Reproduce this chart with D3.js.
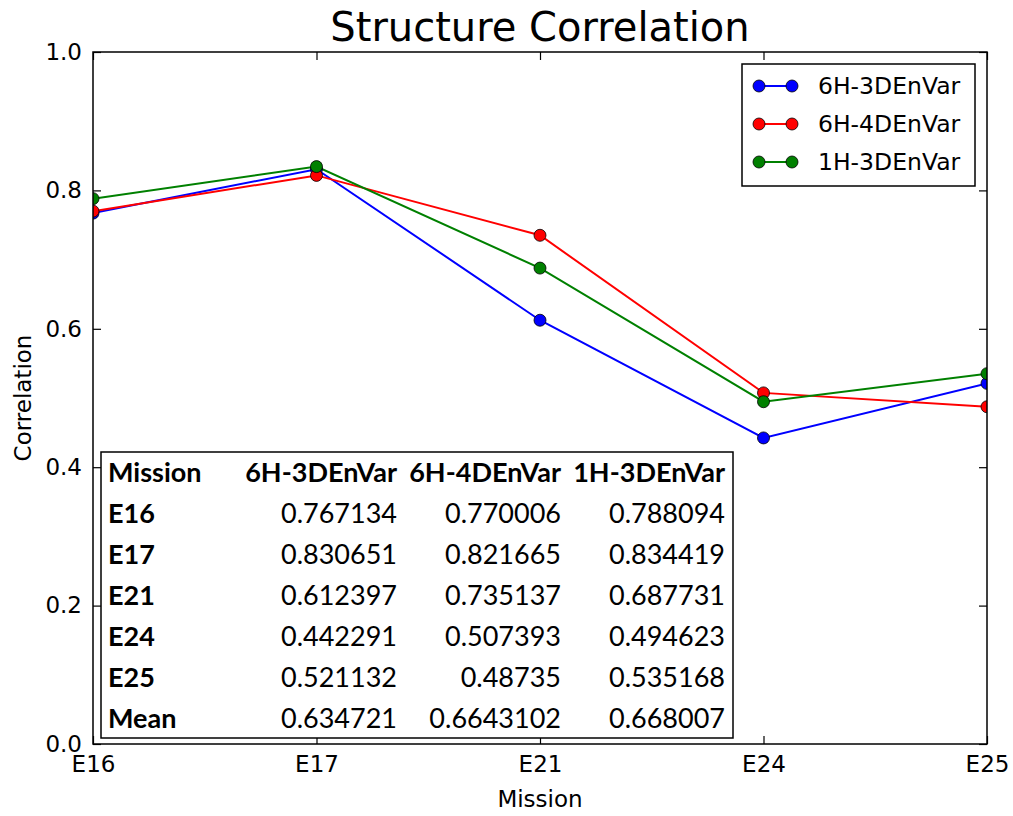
<!DOCTYPE html>
<html>
<head>
<meta charset="utf-8">
<style>
  body { margin: 0; background: #fff; }
  svg { display: block; }
  .tick text { font-family: "DejaVu Sans", sans-serif; font-size: 23px; fill: #000; }
  .tick line { stroke: #000; stroke-width: 1.2; }
  .domain { display: none; }
</style>
</head>
<body>
<svg width="1013" height="816"></svg>
<script src="https://cdn.jsdelivr.net/npm/d3@7/dist/d3.min.js"></script>
<script>

var missions = ["E16", "E17", "E21", "E24", "E25"];
var seriesNames = ["6H-3DEnVar", "6H-4DEnVar", "1H-3DEnVar"];
var h6_3d = [0.767134, 0.830651, 0.612397, 0.442291, 0.521132];
var h6_4d = [0.770006, 0.821665, 0.735137, 0.507393, 0.48735];
var h1_3d = [0.788094, 0.834419, 0.687731, 0.494623, 0.535168];
var means = [0.634721, 0.6643102, 0.668007];
var yTicks = [0, 0.2, 0.4, 0.6, 0.8, 1.0];
var colors = ["#0000ff", "#ff0000", "#008000"];

var series = [h6_3d, h6_4d, h1_3d];

var svg = d3.select("svg"),
    margin = {top: 52, right: 26, bottom: 72, left: 93},
    width = +svg.attr("width") - margin.left - margin.right,
    height = +svg.attr("height") - margin.top - margin.bottom,
    g = svg.append("g").attr("transform", "translate(" + margin.left + "," + margin.top + ")");

var x = d3.scalePoint().domain(missions).range([0, width]);
var y = d3.scaleLinear().domain([0, 1]).range([height, 0]);

// title
svg.append("text")
    .attr("x", margin.left + width / 2)
    .attr("y", 41)
    .attr("text-anchor", "middle")
    .style("font-family", "DejaVu Sans, sans-serif")
    .style("font-size", "40px")
    .text("Structure Correlation");

// axes (ticks pointing inwards, on all four sides)
g.append("g")
    .call(d3.axisLeft(y).tickValues(yTicks).tickFormat(d3.format(".1f"))
      .tickSizeInner(-8).tickSizeOuter(0).tickPadding(11));
g.append("g")
    .attr("transform", "translate(" + width + ",0)")
    .call(d3.axisRight(y).tickValues(yTicks).tickFormat("")
      .tickSizeInner(-8).tickSizeOuter(0));
g.append("g")
    .attr("transform", "translate(0," + height + ")")
    .call(d3.axisBottom(x).tickSizeInner(-8).tickSizeOuter(0).tickPadding(12));
g.append("g")
    .call(d3.axisTop(x).tickFormat("").tickSizeInner(-8).tickSizeOuter(0));

// axis labels
svg.append("text")
    .attr("x", margin.left + width / 2)
    .attr("y", 807)
    .attr("text-anchor", "middle")
    .style("font-family", "DejaVu Sans, sans-serif")
    .style("font-size", "23px")
    .text("Mission");
svg.append("text")
    .attr("transform", "translate(31," + (margin.top + height / 2) + ") rotate(-90)")
    .attr("text-anchor", "middle")
    .style("font-family", "DejaVu Sans, sans-serif")
    .style("font-size", "23px")
    .text("Correlation");

// lines and markers, clipped to the axes
svg.append("defs").append("clipPath").attr("id", "clip")
  .append("rect").attr("width", width).attr("height", height);

var plot = g.append("g").attr("clip-path", "url(#clip)");
var line = d3.line()
    .x(function(d, i) { return x(missions[i]); })
    .y(function(d) { return y(d); });

series.forEach(function(s, k) {
  plot.append("path")
      .datum(s)
      .attr("fill", "none")
      .attr("stroke", colors[k])
      .attr("stroke-width", 2)
      .attr("d", line);
});
series.forEach(function(s, k) {
  plot.selectAll(".pt" + k)
      .data(s)
    .enter().append("circle")
      .attr("cx", function(d, i) { return x(missions[i]); })
      .attr("cy", function(d) { return y(d); })
      .attr("r", 6)
      .attr("fill", colors[k])
      .attr("stroke", "#000")
      .attr("stroke-width", 0.8);
});

// table
var rows = missions.concat(["Mean"]);
var tbl = g.append("g").attr("transform", "translate(8,400)");
tbl.append("rect")
    .attr("width", 632).attr("height", 286)
    .attr("fill", "#fff").attr("stroke", "#000").attr("stroke-width", 1.5);

var colRight = [296, 460, 624];
var tblFont = "Lato, 'Open Sans', sans-serif";
tbl.append("text")
    .attr("x", 7).attr("y", 30)
    .style("font-family", tblFont).style("font-weight", "bold").style("font-size", "27px")
    .text("Mission");
seriesNames.forEach(function(n, c) {
  tbl.append("text")
      .attr("x", colRight[c]).attr("y", 30)
      .attr("text-anchor", "end")
      .style("font-family", tblFont).style("font-weight", "bold").style("font-size", "27px")
      .text(n);
});
rows.forEach(function(r, i) {
  var yy = 30 + 41 * (i + 1);
  tbl.append("text")
      .attr("x", 7).attr("y", yy)
      .style("font-family", tblFont).style("font-weight", "bold").style("font-size", "27px")
      .text(r);
  series.forEach(function(s, c) {
    var v = i < missions.length ? s[i] : means[c];
    tbl.append("text")
        .attr("x", colRight[c]).attr("y", yy)
        .attr("text-anchor", "end")
        .style("font-family", tblFont).style("font-size", "27px")
        .text(String(v));
  });
});

// spine
g.append("rect")
    .attr("width", width).attr("height", height)
    .attr("fill", "none").attr("stroke", "#000").attr("stroke-width", 1.5);

// legend
var lg = g.append("g").attr("transform", "translate(" + (742 - margin.left) + "," + (64 - margin.top) + ")");
lg.append("rect")
    .attr("width", 233).attr("height", 122)
    .attr("fill", "#fff").attr("stroke", "#000").attr("stroke-width", 1.5);
seriesNames.forEach(function(n, k) {
  var yy = 22 + 38 * k;
  lg.append("line")
      .attr("x1", 17).attr("x2", 50).attr("y1", yy).attr("y2", yy)
      .attr("stroke", colors[k]).attr("stroke-width", 2);
  [17, 50].forEach(function(cx) {
    lg.append("circle")
        .attr("cx", cx).attr("cy", yy).attr("r", 6)
        .attr("fill", colors[k]).attr("stroke", "#000").attr("stroke-width", 0.8);
  });
  lg.append("text")
      .attr("x", 76).attr("y", yy + 8)
      .style("font-family", "DejaVu Sans, sans-serif")
      .style("font-size", "23.5px")
      .text(n);
});

</script>
</body>
</html>
